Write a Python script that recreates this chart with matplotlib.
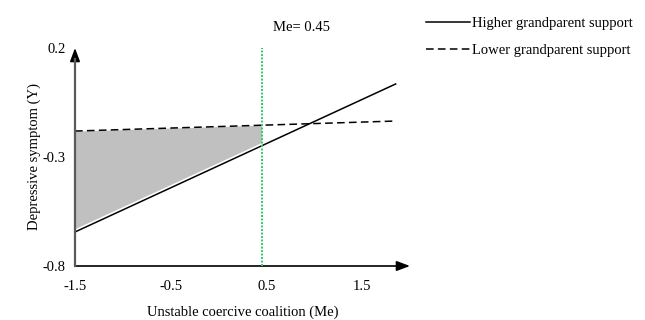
import matplotlib.pyplot as plt
import numpy as np

plt.rcParams['font.family'] = ['Liberation Serif', 'DejaVu Serif']

# simple slopes
x_line = [-1.5, 1.85]
higher_support = [-0.644, 0.035]
lower_support = [-0.181, -0.135]
me_value = 0.45

x_ticks = [-1.5, -0.5, 0.5, 1.5]
y_ticks = [0.2, -0.3, -0.8]


def main():
    fig = plt.figure(figsize=(6.45, 3.2), dpi=100)
    ax = fig.add_axes([75 / 645, 1 - 266 / 320, (410 - 75) / 645, (266 - 48) / 320])
    ax.set_xlim(-1.5, 2.0)
    ax.set_ylim(-0.8, 0.2)

    # shaded region left of Me between the two lines
    xs = np.array([x_line[0], me_value])
    hi = np.interp(xs, x_line, higher_support)
    lo = np.interp(xs, x_line, lower_support)
    ax.fill_between(xs, hi, lo, color="#c0c0c0", lw=0, zorder=1)

    ax.plot(x_line, higher_support, color="white", lw=3.5, zorder=2)
    l1, = ax.plot(x_line, higher_support, color="black", lw=1.1, zorder=3,
                  label="Higher grandparent support")
    l2, = ax.plot(x_line, lower_support, color="black", lw=1.1, zorder=3,
                  dashes=(5, 2.8), label="Lower grandparent support")

    ax.plot([me_value, me_value], [-0.8, 0.2], color="#2ecc71", lw=1.4,
            dashes=(1.0, 0.8), zorder=4)
    ax.text(0.57, 0.292, "Me= 0.45", fontsize=10.5, ha="left", va="center")

    # axes drawn as arrows
    for s in ax.spines.values():
        s.set_visible(False)
    ax.annotate("", xy=(1.0, 0), xycoords="axes fraction", xytext=(0, 0),
                arrowprops=dict(arrowstyle="-|>,head_length=0.8,head_width=0.3",
                                color="black", lw=1.2, shrinkA=0, shrinkB=0))
    ax.annotate("", xy=(0, 1.0), xycoords="axes fraction", xytext=(0, 0),
                arrowprops=dict(arrowstyle="-|>,head_length=0.8,head_width=0.3",
                                color="black", lw=1.2, shrinkA=0, shrinkB=0))
    ax.plot([0, 0], [0, 0.95], transform=ax.transAxes, color="#5a5a5a", lw=1.6,
            clip_on=False, zorder=5)

    ax.set_xticks(x_ticks)
    ax.set_xticklabels([str(v) for v in x_ticks])
    ax.set_yticks(y_ticks)
    ax.set_yticklabels([str(v) for v in y_ticks])
    ax.tick_params(length=0, labelsize=10.5, pad=7)
    ax.tick_params(axis="x", pad=10)

    ax.set_xlabel("Unstable coercive coalition (Me)", fontsize=10.5, labelpad=9)
    ax.set_ylabel("Depressive symptom (Y)", fontsize=10.5, labelpad=1)

    fig.legend(handles=[l1, l2], loc="upper left",
               bbox_to_anchor=(413 / 645, 1 - 4 / 320), frameon=False,
               fontsize=10.5, handlelength=3.0, handletextpad=0.15,
               labelspacing=0.95)

    fig.savefig("out.png", dpi=100)


if __name__ == "__main__":
    main()
